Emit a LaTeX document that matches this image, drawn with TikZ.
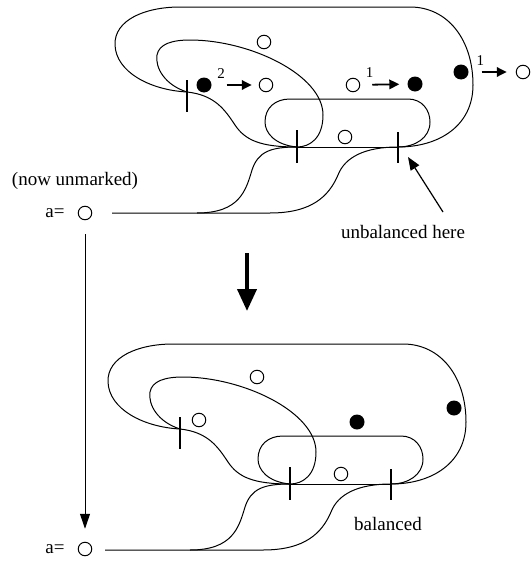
\documentclass[tikz,border=0pt]{standalone}
\usepackage{fontspec}
\setmainfont{Liberation Serif}
\usetikzlibrary{arrows.meta,calc}

\tikzset{
  arc/.style={line width=1pt},
  bar/.style={line width=2.8pt},
  place/.style={circle,draw,line width=1pt,minimum size=13.5pt,inner sep=0pt},
  token/.style={circle,fill,minimum size=15pt,inner sep=0pt},
  fire/.style={line width=1.8pt,-{Triangle[length=10pt,width=9.5pt]}},
  weight/.style={font=\fontsize{15}{17}\selectfont,inner sep=0pt,above=6pt},
  txt/.style={font=\fontsize{19}{22}\selectfont,inner sep=0pt},
}

% the net: three transitions and the arcs between them
\newcommand\netshape{%
  \coordinate (t1) at (187,92);
  \coordinate (t2) at (297,147);
  \coordinate (t3) at (398,147);
  \coordinate (s1) at (112,213);
  \coordinate (s2) at (197,213);
  \coordinate (s3) at (270,213);
  % outer loop
  \draw[arc] (t1) .. controls (150,90) and (116,72) .. (115,45)
    .. controls (114,20) and (145,7) .. (180,7) -- (410,7)
    .. controls (448,7) and (473,40) .. (473,85)
    .. controls (473,125) and (440,147) .. (t3);
  % inner loop
  \draw[arc] (t1) .. controls (165,85) and (155,68) .. (157,55)
    .. controls (159,44) and (172,40) .. (190,40)
    .. controls (250,40) and (323,75) .. (323,115)
    .. controls (323,138) and (310,147) .. (t2);
  % middle loop
  \draw[arc] (t2) .. controls (275,145) and (265,133) .. (265,122)
    .. controls (265,108) and (275,99) .. (290,99) -- (408,99)
    .. controls (422,99) and (430,110) .. (430,122)
    .. controls (430,138) and (415,147) .. (t3);
  % lower arc from the first transition
  \draw[arc] (t1) .. controls (215,95) and (225,110) .. (235,125)
    .. controls (245,140) and (260,147) .. (t2);
  \draw[arc] (t2) -- (t3);
  % arcs from place a
  \draw[arc] (s1) -- (s3) .. controls (312,213) and (329,196) .. (338,175)
    .. controls (345,157) and (365,147) .. (t3);
  \draw[arc] (s2) .. controls (240,213) and (246,190) .. (252,170)
    .. controls (258,152) and (270,147) .. (t2);
  % transition bars
  \draw[bar] ($(t1)+(0,-12)$) -- ($(t1)+(0,20)$);
  \draw[bar] ($(t2)+(0,-17)$) -- ($(t2)+(0,16)$);
  \draw[bar] ($(t3)+(0,-15)$) -- ($(t3)+(0,16)$);
}

\begin{document}
\begin{tikzpicture}[x=1pt,y=-1pt]
\useasboundingbox (0,0) rectangle (531,562);

% ---- before ----
\begin{scope}[name prefix=A-]
  \netshape
  \node[place] (p1) at (264,42) {};
  \node[token] (k1) at (204,85) {};
  \node[place] (p2) at (266,85) {};
  \node[place] (p3) at (353,85) {};
  \node[token] (k2) at (415,84) {};
  \node[token] (k3) at (461,72) {};
  \node[place] (p4) at (523,72) {};
  \node[place] (p5) at (345,137) {};
  \draw[fire,shorten <=15pt,shorten >=7pt] (k1) -- node[weight,pos=0.2]{2} (p2);
  \draw[fire,shorten <=12pt,shorten >=8pt] (p3) -- node[weight,pos=0.2]{1} (k2);
  \draw[fire,shorten <=13pt,shorten >=9pt] (k3) -- node[weight,pos=0.25]{1} (p4);
\end{scope}

% ---- after ----
\begin{scope}[shift={(-7,337)},name prefix=B-]
  \netshape
  \node[place] (p1) at (264,40) {};
  \node[place] (p2) at (206,83) {};
  \node[token] (k1) at (364,85) {};
  \node[token] (k2) at (461,71) {};
  \node[place] (p5) at (348,137) {};
\end{scope}

% place a, before and after
\node[place] (aT) at (85,213) {};
\node[place] (aB) at (85,549) {};
\node[txt,anchor=east] at ([xshift=-13pt]aT.west) {a=};
\node[txt,anchor=east] at ([xshift=-13pt]aB.west) {a=};
\node[txt] at (75,181) {(now unmarked)};
\draw[arc,-{Triangle[length=15pt,width=10pt]},shorten <=14pt,shorten >=13pt] (aT) -- (aB);

% step arrow
\coordinate (dn1) at (247,253);
\coordinate (dn2) at (247,311);
\draw[line width=4pt,-{Triangle[length=22pt,width=19pt]}] (dn1) -- (dn2);

% annotations
\node[txt] (ubtext) at (403,232) {unbalanced here};
\coordinate (ubtail) at (443,212);
\coordinate (ubtip) at (408,157);
\draw[line width=1.2pt,-{Triangle[length=13pt,width=10pt]}] (ubtail) -- (ubtip);
\node[txt] (baltext) at (388,524) {balanced};
\end{tikzpicture}
\end{document}
